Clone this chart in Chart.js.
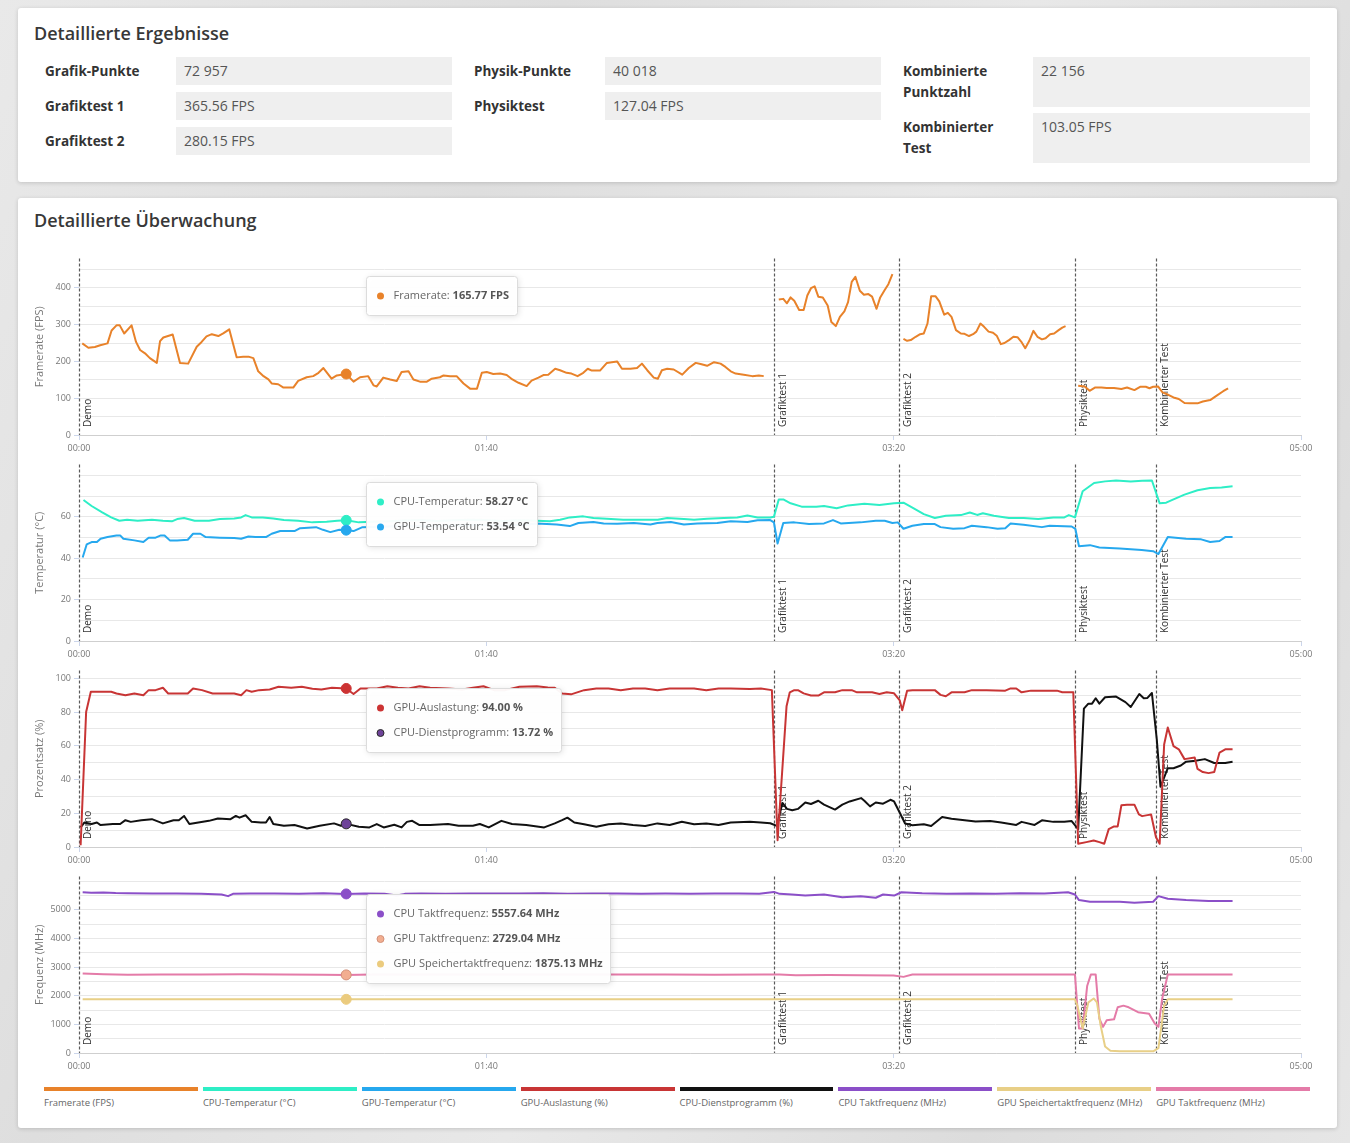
<!DOCTYPE html>
<html><head><meta charset="utf-8">
<script src="https://cdn.jsdelivr.net/npm/chart.js@4.4.1/dist/chart.umd.min.js"></script>
<style>
html,body{margin:0;padding:0}
body{width:1350px;height:1143px;position:relative;overflow:hidden;font-family:"Open Sans",sans-serif;
 background:linear-gradient(115deg,#e9e9e9 0%,#dedede 30%,#e8e8e8 55%,#dcdcdc 80%,#e6e6e6 100%)}
.card{position:absolute;left:18px;width:1319px;background:#fff;border-radius:3px;box-shadow:0 1px 4px rgba(0,0,0,.16)}
#card1{top:8px;height:174px}
#card2{top:198px;height:930px}
.card h2{position:absolute;left:16px;margin:0;font-size:18px;line-height:24px;font-weight:600;color:#383838}
#card1 h2{top:13px}
#card2 h2{top:10px}
.lbl{position:absolute;font-size:13.5px;font-weight:700;color:#333;line-height:21px}
.val{position:absolute;background:#efefef;font-size:14px;color:#555;line-height:21px;padding:3px 0 0 8px;box-sizing:border-box}
canvas{position:absolute;left:20px}
#legend{position:absolute;left:44px;top:1087px;width:1266px;display:flex;gap:5px}
#legend .it{flex:1;min-width:0}
#legend .bar{height:4px}
#legend .tx{font-size:9.5px;color:#666;margin-top:5px;white-space:nowrap}
</style></head>
<body>
<div class="card" id="card1"><h2>Detaillierte Ergebnisse</h2><div id="results"></div></div>
<div class="card" id="card2"><h2>Detaillierte Überwachung</h2></div>
<canvas id="ch1" width="1310" height="206" style="top:250px"></canvas>
<canvas id="ch2" width="1310" height="206" style="top:456px"></canvas>
<canvas id="ch3" width="1310" height="206" style="top:662px"></canvas>
<canvas id="ch4" width="1310" height="206" style="top:868px"></canvas>
<div id="legend"></div>
<script>
// ---------- results ----------
const resultLabels = [['Grafik-Punkte','Grafiktest 1','Grafiktest 2'],['Physik-Punkte','Physiktest'],['Kombinierte<br>Punktzahl','Kombinierter<br>Test']];
const resultValues = [['72 957','365.56 FPS','280.15 FPS'],['40 018','127.04 FPS'],['22 156','103.05 FPS']];

// ---------- monitoring (time in seconds, value) ----------
const markerTimes = [0, 170.6, 201.3, 244.5, 264.4];
const markerLabels = ['Demo','Grafiktest 1','Grafiktest 2','Physiktest','Kombinierter Test'];
const hoverTime = 65.6;

const framerate = [
[0.8,249],[2.3,237],[3.9,239],[5.2,244],[7.0,249],[8.0,284],[9.2,298],[10.0,298],[11.1,276],[12.9,298],[14.0,253],[15.0,231],[16.2,222],[17.4,209],[19.1,196],[19.9,255],[20.7,265],[23.0,273],[24.8,196],[26.8,194],[28.9,240],[30.1,253],[31.3,268],[32.6,274],[34.2,269],[35.4,276],[36.9,287],[38.7,211],[40.3,213],[41.6,213],[42.8,209],[44.0,173],[45.3,160],[46.5,151],[47.3,140],[48.9,138],[50.2,129],[52.6,129],[53.8,147],[55.9,157],[57.5,160],[58.8,169],[60.0,182],[62.0,153],[63.3,162],[65.6,165.77],[67.4,145],[69.0,157],[71.0,160],[72.3,135],[73.1,132],[74.7,156],[76.4,151],[78.0,147],[79.2,171],[80.9,173],[82.1,151],[83.7,145],[85.4,145],[86.6,153],[88.6,157],[89.5,162],[91.1,160],[92.7,160],[94.4,140],[96.0,126],[97.7,126],[98.9,169],[100.1,171],[101.7,166],[103.4,167],[105.0,163],[106.4,151],[107.9,142],[109.9,133],[111.1,148],[112.8,156],[114.0,163],[115.2,164],[116.9,180],[118.1,176],[119.7,169],[120.9,167],[122.4,160],[123.8,169],[124.9,180],[125.9,175],[127.9,175],[129.6,196],[130.8,198],[132.1,200],[133.3,180],[135.4,180],[137.0,182],[138.2,194],[139.5,176],[141.1,156],[142.1,153],[143.1,176],[144.4,180],[146.0,178],[148.1,164],[149.7,182],[151.4,196],[152.6,193],[154.2,188],[155.9,198],[157.5,194],[158.7,185],[160.0,173],[161.2,167],[163.2,164],[165.3,160],[166.9,162],[168.1,160],
[170,null],
[171.8,368],[172.9,370],[173.8,358],[174.7,374],[175.6,365],[176.8,340],[177.9,340],[178.8,379],[179.7,399],[180.6,404],[181.5,376],[182.6,374],[183.8,352],[184.7,307],[185.8,296],[186.8,321],[187.9,336],[188.8,361],[189.7,416],[190.6,430],[191.7,392],[192.7,381],[193.8,383],[194.7,376],[195.8,343],[196.7,374],[197.8,394],[198.7,410],[199.7,437],
[201,null],
[202.4,261],[203.3,256],[204.2,258],[205.4,267],[206.5,274],[207.4,276],[208.3,303],[209.2,377],[210.3,377],[211.2,363],[212.4,327],[213.3,332],[214.2,321],[215.3,285],[216.5,276],[217.4,275],[218.5,269],[219.5,274],[220.3,281],[221.3,303],[222.2,294],[223.3,281],[224.4,278],[225.3,270],[226.3,247],[227.2,250],[228.3,258],[229.4,267],[230.4,266],[231.3,254],[232.3,236],[233.3,256],[234.3,283],[235.3,267],[236.4,260],[237.3,263],[238.4,274],[239.4,276],[240.5,285],[241.4,292],[242.2,296],
[244,null],
[245.3,134],[246.9,132],[248.1,120],[249.4,129],[251.0,129],[252.3,128],[254.1,128],[255.9,125],[257.3,129],[259.1,122],[260.5,131],[261.9,131],[262.8,127],[263.7,131],[264.9,132],[266.0,116],[267.3,110],[268.7,102],[270.0,98],[271.4,87],[272.7,86],[274.6,86],[275.9,91],[277.7,95],[279.3,107],[280.9,119],[282.1,127]
];

const cpuTemp = [
[1.1,68.1],[3.1,65.2],[5.7,62.1],[7.9,59.7],[9.9,58.1],[11.8,58.6],[14.4,58.1],[17.9,58.6],[20.6,58.1],[22.8,57.8],[24.1,58.9],[25.8,59.4],[28.4,58.1],[31.9,58.1],[34.6,58.9],[38.1,59.2],[39.8,59.7],[40.9,60.8],[42.4,59.7],[45.1,59.7],[47.7,59.2],[50.3,58.4],[53.8,58.1],[57.3,57.3],[60.8,57.6],[63.4,58.1],[65.6,58.27],[68.7,57.3],[72,57.6],[76,57.8],[80,58.2],[84,58.4],[88,58.0],[92,58.3],[96,58.6],[100,58.4],[104,58.0],[108,58.3],[112.4,58.1],[115.6,57.8],[118.1,58.6],[120.5,59.7],[123.8,60.2],[126.3,59.4],[129.6,59.1],[133.6,58.6],[137.8,58.6],[142.1,58.6],[144.4,59.4],[148.5,58.9],[151.0,58.6],[154.2,59.1],[158.3,59.4],[161.6,59.7],[164.1,60.6],[166.6,59.7],[169.7,59.7],[170.6,60.0],[171.8,68.4],[172.9,68.4],[174.7,66.5],[177.4,64.9],[181.0,64.9],[182.9,65.2],[186.0,64.1],[188.8,65.5],[192.8,66.3],[196.5,65.7],[200.1,66.5],[202.4,66.8],[204.6,64.4],[207.4,61.3],[210.1,59.4],[212.8,60.5],[216.5,60.8],[218.7,62.1],[220.5,60.9],[221.9,61.7],[224.6,60.5],[228.3,59.4],[231.9,59.4],[235.5,58.9],[239.2,59.7],[241.9,59.7],[243.0,60.8],[244.5,59.7],[246.4,72.3],[249.2,76.3],[251.9,77.1],[254.6,77.5],[258.2,77.1],[261.0,77.4],[263.4,77.5],[265.3,66.5],[266.9,66.8],[268.7,68.4],[271.4,70.7],[274.6,72.8],[277.7,73.9],[280.5,74.2],[283.2,74.7]
];

const gpuTemp = [
[0.9,40.3],[1.9,46.7],[3.1,47.8],[4.4,47.8],[5.3,49.4],[7.0,50.2],[9.2,51.0],[10.1,51.0],[10.9,49.4],[13.6,48.6],[15.8,47.8],[17.1,49.9],[18.8,49.9],[20.1,51.0],[21.0,51.0],[22.3,48.6],[24.1,48.6],[26.7,48.9],[28.0,51.8],[29.8,51.8],[31.1,50.2],[34.6,49.9],[38.1,49.7],[39.8,49.4],[41.6,50.5],[43.3,50.2],[45.9,50.2],[47.3,51.8],[49.4,53.1],[52.9,53.1],[54.3,54.5],[58.2,55.0],[59.9,53.7],[61.7,52.6],[63.9,53.7],[65.6,53.54],[67.4,53.1],[69.6,55.0],[74,55.2],[80,55.6],[86,55.3],[92,55.8],[98,56.0],[104,55.7],[110,56.3],[112.4,56.7],[117.3,56.3],[120.5,55.5],[122.6,57.0],[126.3,57.5],[128.8,56.7],[132.1,56.6],[136.2,57.0],[140.3,56.3],[142.0,57.0],[145.3,57.5],[148.5,56.3],[151.8,56.7],[156.7,57.0],[160.0,57.8],[164.1,57.5],[166.6,58.3],[169.7,58.4],[170.6,57.3],[171.5,47.1],[172.9,57.0],[175.6,57.3],[179.2,56.5],[182.9,56.8],[185.1,58.4],[187.0,56.8],[191.9,57.3],[195.6,58.1],[197.8,58.1],[199.7,57.0],[201.0,57.3],[202.4,54.2],[204.6,55.7],[207.4,56.5],[210.1,56.5],[211.5,55.0],[214.6,54.2],[217.4,54.5],[219.2,55.7],[222.8,55.0],[225.5,54.2],[227.4,54.5],[228.7,56.8],[231.9,56.2],[236.4,55.0],[238.3,55.7],[243.7,55.3],[244.6,54.2],[245.5,45.8],[248.2,46.3],[250.5,45.2],[255.5,44.7],[260.9,43.9],[263.7,43.4],[265.0,42.0],[267.3,50.2],[271.8,49.4],[275.5,49.1],[277.7,47.8],[280.0,48.3],[281.4,50.2],[283.2,50.2]
];

const gpuLoad = [
[0.4,1],[1.75,80],[2.9,92],[7.9,92],[9.2,91],[11.4,90],[13.6,91],[15.8,90],[17.1,93],[18.8,93],[20.6,94.4],[21.9,91],[26.7,91],[28.0,94],[30.2,93],[32.8,91],[38.1,91],[39.8,90],[41.1,93],[42.4,92],[44.2,93],[46.8,93.4],[49.0,95],[52.1,94.4],[54.7,95],[57.3,93.8],[59.5,93.4],[62.1,94.4],[65.6,94.0],[67.4,90.7],[69.1,94],[73.1,94],[75.7,95.3],[78.3,94.4],[80.9,94],[83.6,95.3],[86.2,94.4],[90.6,94],[94.1,93.4],[96.7,94.4],[99.3,95.3],[101.9,93],[104.6,93],[108.1,95],[112.4,95.3],[115.1,94.6],[116.8,94.4],[118.6,91],[120.8,90.5],[124,93],[127,94],[130,94],[133,93],[136,94],[139,94],[142,93],[145,94],[148,94],[151,94],[154,93],[157,94],[160,94],[164.7,93.6],[167.4,94],[170.1,93],[171.5,4],[173.7,83.4],[174.5,91.7],[175.6,93],[176.5,93],[177.9,91.1],[179.7,89.8],[181.5,89.8],[182.9,91.7],[185.6,91.7],[187.4,93],[189.7,93],[191.0,91.7],[194.7,91.7],[196.5,90.7],[198.3,91.7],[200.1,91.1],[201.5,86.9],[202.1,81.1],[203.3,92.7],[204.6,93],[210.1,93],[211.5,90.2],[212.8,89.4],[214.2,91.7],[217.4,91.7],[219.2,93],[222.8,93],[227.4,92.7],[228.7,94],[230.1,94],[231.4,91.7],[233.7,92.7],[240.1,92.7],[241.4,91.7],[244.1,91.7],[245.3,1.9],[247.3,2.9],[249.1,3.9],[250.5,2.9],[251.7,1.9],[252.8,10.6],[254.1,12.2],[255.0,12.2],[255.9,24.7],[257.3,25.1],[259.1,25.1],[260.2,19.3],[261.0,18.3],[262.3,18.9],[263.2,19.3],[264.4,5.8],[265.3,1.9],[266.4,60.8],[267.3,70.8],[268.7,59.8],[270.0,57.9],[271.4,52.1],[273.9,53.1],[274.6,46.3],[275.9,44.4],[277.3,43.8],[278.7,44.4],[280.0,56],[281.4,57.9],[283.2,57.9]
];

const cpuLoad = [
[0.4,11.6],[1.3,14.5],[3.1,13.6],[4.4,14.5],[5.3,13.0],[8.3,13.6],[10.1,13.6],[11.4,15.9],[12.7,14.9],[15.3,15.9],[17.9,16.5],[20.6,14.0],[23.2,15.9],[24.5,15.9],[25.8,18.4],[27.1,13.6],[29.3,14.5],[31.9,15.5],[34.1,16.9],[37.2,16.5],[38.5,18.4],[39.4,17.4],[40.9,18.8],[42.4,14.9],[44.6,14.5],[45.9,14.5],[46.8,17.8],[47.7,13.6],[50.3,12.6],[52.9,13.0],[56.0,11.0],[59.1,12.6],[62.6,14.0],[64.3,12.6],[65.6,13.72],[68.7,12.0],[71.3,11.6],[73.1,13.6],[74.8,11.6],[77.4,13.2],[79.2,11.6],[80.5,14.9],[81.8,15.5],[83.6,13.0],[86.2,13.0],[90.6,13.6],[93.2,12.6],[96.7,12.6],[98.4,13.6],[100.6,11.6],[103.7,15.5],[106.3,13.6],[109.8,13.0],[114.2,11.6],[116.8,14.0],[118.6,15.9],[119.9,17.4],[121.6,14.5],[124,13.5],[127,12],[130,13.5],[133,14],[136,13],[139,12.5],[142,14],[145,13],[148,15],[151,13.5],[154,14],[157,13],[160,14.5],[164.7,14.9],[167.4,14.5],[169.7,14.1],[171.3,12.5],[172.7,26.1],[173.8,22.6],[175.1,21.8],[176.5,22.6],[178.3,26.4],[179.7,25.5],[181.5,27.4],[182.9,25.1],[185.6,22.2],[187.4,25.1],[189.2,27],[192.0,29],[192.8,27.4],[194.2,24.1],[195.6,26.4],[197.4,25.7],[199.2,28],[200.1,27],[201.5,20.3],[202.8,13.9],[204.6,12.9],[207.4,13.5],[209.2,12.5],[211.9,17.8],[214.2,16.8],[216.9,16],[220.1,15.1],[223.7,15.4],[226.4,14.5],[230.1,13.1],[231.4,14.9],[234.6,13.1],[236.4,15.8],[239.2,14.9],[241.9,14.9],[243.7,15.4],[245.3,10.6],[246.7,82],[247.8,85],[248.7,85],[249.6,88.2],[250.5,85],[251.9,88.8],[254.6,89.2],[256.9,85.9],[258.2,83],[260.3,90.7],[261.4,88.2],[262.3,88.4],[263.4,91.3],[264.6,63.7],[265.5,35.7],[267.3,46.7],[268.7,46.7],[270.5,48.3],[271.8,50.6],[274.1,51.2],[276.4,52.1],[278.7,49.8],[281.4,49.8],[283.2,50.6]
];

const cpuClock = [
[0.9,5617],[3,5600],[6,5610],[9,5590],[12,5580],[18,5570],[24,5575],[30,5560],[35,5540],[36.6,5480],[37.8,5560],[42,5570],[48,5575],[54,5560],[60,5580],[65.6,5557.64],[70,5570],[75,5560],[78,5500],[80,5560],[84,5575],[90,5560],[96,5570],[102,5575],[108,5570],[114,5580],[120,5565],[126,5570],[132,5575],[138,5565],[144,5570],[150,5560],[156,5575],[162,5570],[167,5560],[170.6,5628],[172,5560],[175,5540],[178.3,5500],[182.9,5537],[187.4,5445],[191.9,5480],[195.6,5423],[197.4,5537],[200.1,5500],[201.9,5617],[207,5580],[213,5560],[219,5575],[225,5560],[231,5580],[237,5570],[242.8,5617],[244.5,5537],[245.5,5343],[248.2,5286],[255.5,5286],[259.1,5251],[263.7,5286],[265.0,5480],[267.3,5389],[271.8,5343],[277.3,5309],[283.2,5309]
];

const memClock = [
[0.9,1875],[30,1875],[65.6,1875.13],[100,1875],[150,1875],[200,1875],[244.5,1875],[245.1,1655],[246.4,856],[247.8,1770],[249.1,1906],[249.9,1770],[250.8,970],[251.9,228],[253.2,80],[255.5,57],[263.7,57],[265.0,171],[266.4,1655],[267.3,1875],[283.2,1875]
];

const gpuClock = [
[0.9,2774],[6,2750],[12,2730],[20,2740],[30,2745],[40,2750],[50,2745],[60,2735],[65.6,2729.04],[72,2740],[84,2745],[96,2740],[108,2745],[120,2740],[132,2745],[144,2740],[156,2735],[168,2740],[172,2745],[176,2720],[184,2725],[192,2720],[200,2710],[202.4,2660],[204.6,2740],[215,2740],[225,2740],[235,2740],[244.5,2740],[245.5,856],[246.4,856],[247.5,2340],[248.4,2740],[249.6,2740],[250.5,1199],[251.4,913],[252.3,1142],[254.1,1176],[255.0,1598],[256.4,1655],[257.7,1598],[260.0,1427],[262.7,1370],[264.1,1027],[265.0,913],[265.9,1884],[267.3,2740],[275,2745],[283.2,2740]
];

const fpsGrid = [0,50,100,150,200,250,300,350,400,450], fpsLabels = [0,100,200,300,400];
const tempGrid = [0,10,20,30,40,50,60,70,80], tempLabels = [0,20,40,60];
const pctGrid = [0,10,20,30,40,50,60,70,80,90,100], pctLabels = [0,20,40,60,80,100];
const mhzGrid = [0,500,1000,1500,2000,2500,3000,3500,4000,4500,5000,5500,6000], mhzLabels = [0,1000,2000,3000,4000,5000];

const legendNames = ['Framerate (FPS)','CPU-Temperatur (°C)','GPU-Temperatur (°C)','GPU-Auslastung (%)','CPU-Dienstprogramm (%)','CPU Taktfrequenz (MHz)','GPU Speichertaktfrequenz (MHz)','GPU Taktfrequenz (MHz)'];
const legendColors = ['#e8822a','#2eeec6','#26a8ee','#c83535','#111111','#8b4fc8','#e8cf87','#e47ba8'];

// ---------- build page ----------
(function(){
  const box = document.getElementById('results');
  const lx=[27,456,885], vx=[158,587,1015], vw=[276,276,277];
  resultLabels.forEach((col,c)=>{
    col.forEach((l,r)=>{
      const two = c===2;
      const top = two ? 49+r*56 : 49+r*35;
      const h = two ? 50 : 28;
      box.insertAdjacentHTML('beforeend',
        `<div class="lbl" style="left:${lx[c]}px;top:${top+4}px">${l}</div>`+
        `<div class="val" style="left:${vx[c]}px;top:${top}px;width:${vw[c]}px;height:${h}px">${resultValues[c][r]}</div>`);
    });
  });
  const lg = document.getElementById('legend');
  legendNames.forEach((n,i)=>{
    lg.insertAdjacentHTML('beforeend',`<div class="it"><div class="bar" style="background:${legendColors[i]}"></div><div class="tx">${n}</div></div>`);
  });
})();

Chart.defaults.font.family = '"Open Sans", sans-serif';

function mmss(v){const m=Math.floor(v/60),s=Math.round(v%60);return String(m).padStart(2,'0')+':'+String(s).padStart(2,'0');}
function valAt(data,t){const p=data.find(q=>q[0]===t);return p?p[1]:null;}

function overlay(cfg){return{
  id:'ov_'+cfg.id,
  beforeDatasetsDraw(chart){
    const {ctx,chartArea:a,scales:{x}}=chart;
    ctx.save();
    markerTimes.forEach((t,i)=>{
      const px=Math.round(x.getPixelForValue(t))+0.5;
      ctx.strokeStyle='#5a5a5a';ctx.lineWidth=1.2;ctx.setLineDash([3,2]);
      ctx.beginPath();ctx.moveTo(px,a.top);ctx.lineTo(px,a.bottom);ctx.stroke();
      ctx.setLineDash([]);
      ctx.save();ctx.translate(px+8.5,a.bottom-8);ctx.rotate(-Math.PI/2);
      ctx.font='10px "Open Sans", sans-serif';ctx.fillStyle='#333';ctx.textAlign='left';ctx.textBaseline='middle';
      ctx.fillText(markerLabels[i],0,0);ctx.restore();
    });
    ctx.restore();
  },
  afterDatasetsDraw(chart){
    const {ctx,chartArea:a,scales:{x,y}}=chart;
    const hx=x.getPixelForValue(hoverTime);
    ctx.save();
    cfg.series.forEach(s=>{
      const v=valAt(s.data,hoverTime);
      const py=y.getPixelForValue(v);
      ctx.beginPath();ctx.arc(hx,py,5,0,Math.PI*2);
      ctx.fillStyle=s.mark;ctx.fill();
      ctx.lineWidth=1;ctx.strokeStyle=s.markBorder||s.mark;ctx.stroke();
    });
    const rows=cfg.tip.map(i=>cfg.series[i]);
    let maxW=0;
    const parts=rows.map(s=>{
      const v=valAt(s.data,hoverTime);
      const l=s.tipName+': ', val=v.toFixed(2)+' '+s.unit;
      ctx.font='11px "Open Sans", sans-serif';const w1=ctx.measureText(l).width;
      ctx.font='bold 11px "Open Sans", sans-serif';const w2=ctx.measureText(val).width;
      maxW=Math.max(maxW,w1+w2);
      return {l,val,w1,s};
    });
    const bx=Math.round(hx+20)+0.5, by=Math.round(a.top+18)+0.5;
    const bw=Math.round(27+maxW+8), bh=20+25*(rows.length-1)+19;
    ctx.save();
    ctx.shadowColor='rgba(0,0,0,0.13)';ctx.shadowBlur=6;ctx.shadowOffsetX=1;ctx.shadowOffsetY=1;
    ctx.beginPath();ctx.roundRect(bx,by,bw,bh,3);
    ctx.fillStyle='rgba(255,255,255,0.96)';ctx.fill();
    ctx.restore();
    ctx.beginPath();ctx.roundRect(bx,by,bw,bh,3);ctx.strokeStyle='#dcdcdc';ctx.lineWidth=1;ctx.stroke();
    parts.forEach((p,i)=>{
      const cy=by+19.5+25*i;
      ctx.beginPath();ctx.arc(bx+14,cy,3.5,0,Math.PI*2);ctx.fillStyle=p.s.mark;ctx.fill();
      if(p.s.markBorder){ctx.lineWidth=1;ctx.strokeStyle=p.s.markBorder;ctx.stroke();}
      ctx.textBaseline='middle';ctx.textAlign='left';
      ctx.font='11px "Open Sans", sans-serif';ctx.fillStyle='#666';ctx.fillText(p.l,bx+27,cy);
      ctx.font='bold 11px "Open Sans", sans-serif';ctx.fillStyle='#555';ctx.fillText(p.val,bx+27+p.w1,cy);
    });
    ctx.restore();
  }
};}

const charts=[
 {id:'ch1',title:'Framerate (FPS)',max:480,grid:fpsGrid,labels:fpsLabels,tip:[0],
  series:[{data:framerate,color:legendColors[0],mark:'#e8822a',tipName:'Framerate',unit:'FPS'}]},
 {id:'ch2',title:'Temperatur (°C)',max:85.3,grid:tempGrid,labels:tempLabels,tip:[0,1],
  series:[{data:cpuTemp,color:legendColors[1],mark:'#2eeec6',tipName:'CPU-Temperatur',unit:'°C'},
          {data:gpuTemp,color:legendColors[2],mark:'#26a8ee',tipName:'GPU-Temperatur',unit:'°C'}]},
 {id:'ch3',title:'Prozentsatz (%)',max:104.7,grid:pctGrid,labels:pctLabels,tip:[0,1],
  series:[{data:gpuLoad,color:legendColors[3],mark:'#cc3333',tipName:'GPU-Auslastung',unit:'%'},
          {data:cpuLoad,color:legendColors[4],mark:'#6e4399',markBorder:'#2a2a2a',tipName:'CPU-Dienstprogramm',unit:'%'}]},
 {id:'ch4',title:'Frequenz (MHz)',max:6170,grid:mhzGrid,labels:mhzLabels,tip:[0,2,1],
  series:[{data:cpuClock,color:legendColors[5],mark:'#8b4fc8',tipName:'CPU Taktfrequenz',unit:'MHz'},
          {data:memClock,color:legendColors[6],mark:'#ebcb7e',tipName:'GPU Speichertaktfrequenz',unit:'MHz'},
          {data:gpuClock,color:legendColors[7],mark:'#f2ae90',markBorder:'#d39078',tipName:'GPU Taktfrequenz',unit:'MHz'}]}
];

charts.forEach(cfg=>{
  new Chart(document.getElementById(cfg.id),{
    type:'line',
    data:{datasets:cfg.series.map(s=>({
      data:s.data.map(p=>({x:p[0],y:p[1]})),
      borderColor:s.color,backgroundColor:s.color,borderWidth:2,pointRadius:0,pointHoverRadius:0,
      tension:0,spanGaps:false,fill:false,borderJoinStyle:'round'}))},
    options:{
      responsive:false,animation:false,devicePixelRatio:1,events:[],
      layout:{padding:{top:5,right:29,bottom:0,left:0}},
      plugins:{legend:{display:false},tooltip:{enabled:false}},
      scales:{
        x:{type:'linear',min:0,max:300,bounds:'data',
           ticks:{stepSize:100,callback:v=>mmss(v),font:{size:9},color:'#777',padding:3,maxRotation:0,autoSkip:false},
           grid:{drawOnChartArea:false,tickLength:5,color:'#ccd6eb'},
           border:{color:'#cfcfcf'},
           afterFit:s=>{s.height=21;}},
        y:{min:0,max:cfg.max,bounds:'data',
           afterBuildTicks:s=>{s.ticks=cfg.grid.map(v=>({value:v}));},
           ticks:{callback:v=>cfg.labels.includes(v)?String(v):'',font:{size:9},color:'#777',padding:3,autoSkip:false},
           grid:{color:'#e8e8e8',tickLength:5,tickColor:c=>(c.tick&&cfg.labels.includes(c.tick.value))?'#ccd6eb':'rgba(0,0,0,0)'},
           border:{display:false},
           title:{display:true,text:cfg.title,color:'#777',font:{size:11},padding:{top:13,bottom:0}},
           afterFit:s=>{s.width=59;}}
      }
    },
    plugins:[overlay(cfg)]
  });
});
</script>
</body></html>
